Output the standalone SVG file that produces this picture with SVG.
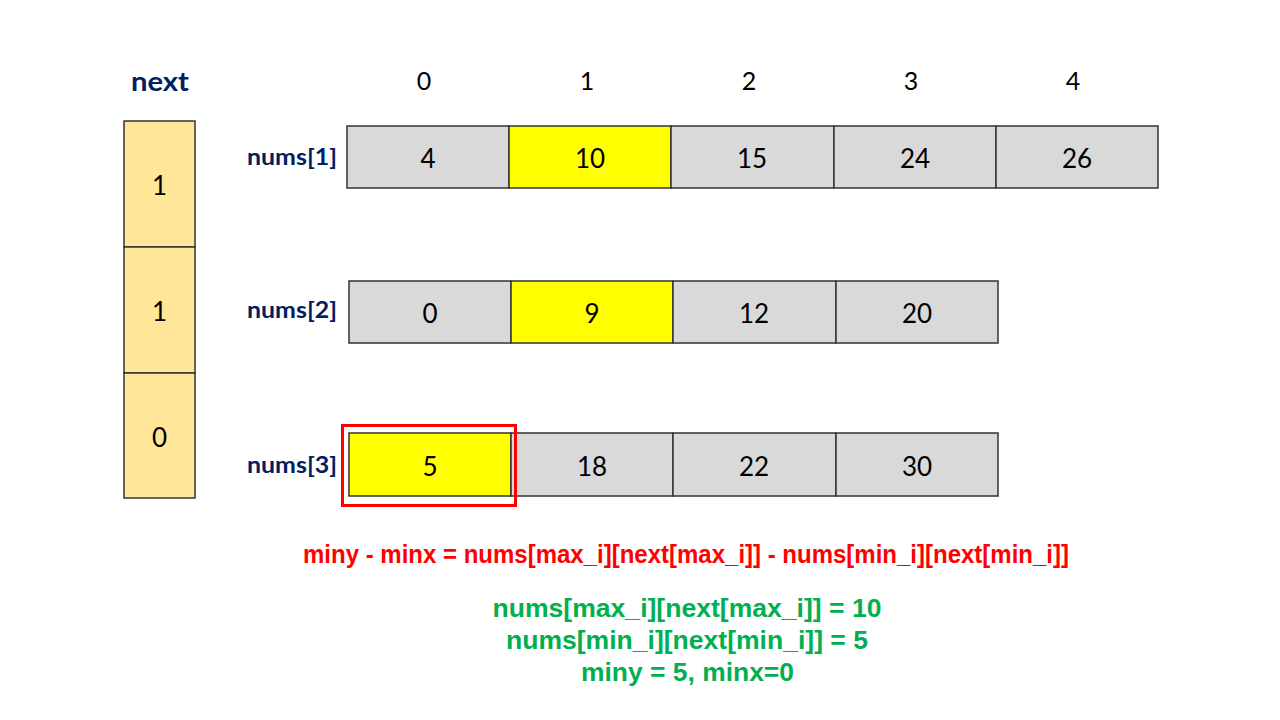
<svg xmlns="http://www.w3.org/2000/svg" width="1280" height="720" viewBox="0 0 1280 720">
<style>
.cell{fill:#d9d9d9;stroke:#333;stroke-width:1.5}
.hl{fill:#ffff00;stroke:#333;stroke-width:1.5}
.nx{fill:#ffe699;stroke:#333;stroke-width:1.5}
.num{font-family:Lato,"Noto Sans",sans-serif;font-size:26px;fill:#000;text-anchor:middle;dominant-baseline:central}
.idx{font-family:Lato,"Noto Sans",sans-serif;font-size:25px;fill:#000;text-anchor:middle;dominant-baseline:central}
.lbl{font-family:Lato,"Noto Sans",sans-serif;font-weight:bold;font-size:22px;fill:#002060;dominant-baseline:central}
.f{font-family:"Liberation Sans",Arial,sans-serif;font-weight:bold;font-size:25px;text-anchor:middle}
</style>
<rect width="1280" height="720" fill="#fff"/>
<g id="next">
<text x="160" y="80" class="lbl" style="font-size:27px" text-anchor="middle" textLength="58" lengthAdjust="spacingAndGlyphs">next</text>
<rect x="124" y="121" width="71" height="126" class="nx"/>
<rect x="124" y="247" width="71" height="126" class="nx"/>
<rect x="124" y="373" width="71" height="125" class="nx"/>
<text x="159.5" y="185" class="num">1</text>
<text x="159.5" y="311" class="num">1</text>
<text x="159.5" y="437" class="num">0</text>
</g>
<g id="indices">
<text x="424" y="80" class="idx">0</text>
<text x="587" y="80" class="idx">1</text>
<text x="749" y="80" class="idx">2</text>
<text x="911" y="80" class="idx">3</text>
<text x="1073" y="80" class="idx">4</text>
</g>
<g id="nums1">
<text x="247" y="156" class="lbl" textLength="90" lengthAdjust="spacingAndGlyphs">nums[1]</text>
<rect x="347" y="126" width="162" height="62" class="cell"/>
<rect x="509" y="126" width="162" height="62" class="hl"/>
<rect x="671" y="126" width="163" height="62" class="cell"/>
<rect x="834" y="126" width="162" height="62" class="cell"/>
<rect x="996" y="126" width="162" height="62" class="cell"/>
<text x="428" y="158" class="num">4</text>
<text x="590" y="158" class="num">10</text>
<text x="752" y="158" class="num">15</text>
<text x="915" y="158" class="num">24</text>
<text x="1077" y="158" class="num">26</text>
</g>
<g id="nums2">
<text x="247" y="309" class="lbl" textLength="90" lengthAdjust="spacingAndGlyphs">nums[2]</text>
<rect x="349" y="281" width="162" height="62" class="cell"/>
<rect x="511" y="281" width="162" height="62" class="hl"/>
<rect x="673" y="281" width="163" height="62" class="cell"/>
<rect x="836" y="281" width="162" height="62" class="cell"/>
<text x="430" y="313" class="num">0</text>
<text x="592" y="313" class="num">9</text>
<text x="754" y="313" class="num">12</text>
<text x="917" y="313" class="num">20</text>
</g>
<g id="nums3">
<text x="247" y="464" class="lbl" textLength="90" lengthAdjust="spacingAndGlyphs">nums[3]</text>
<rect x="349" y="433" width="162" height="63" class="hl"/>
<rect x="511" y="433" width="162" height="63" class="cell"/>
<rect x="673" y="433" width="163" height="63" class="cell"/>
<rect x="836" y="433" width="162" height="63" class="cell"/>
<text x="430" y="466" class="num">5</text>
<text x="592" y="466" class="num">18</text>
<text x="754" y="466" class="num">22</text>
<text x="917" y="466" class="num">30</text>
<rect x="342.5" y="425.5" width="173" height="80" fill="none" stroke="#ff0000" stroke-width="3"/>
</g>
<g id="formulas">
<text x="686" y="563" class="f" fill="#ff0000" textLength="766" lengthAdjust="spacingAndGlyphs">miny - minx = nums[max_i][next[max_i]] - nums[min_i][next[min_i]]</text>
<text x="687" y="617" class="f" fill="#00b050" textLength="389" lengthAdjust="spacingAndGlyphs">nums[max_i][next[max_i]] = 10</text>
<text x="687" y="649" class="f" fill="#00b050" textLength="362" lengthAdjust="spacingAndGlyphs">nums[min_i][next[min_i]] = 5</text>
<text x="687.5" y="681" class="f" fill="#00b050" textLength="213" lengthAdjust="spacingAndGlyphs">miny = 5, minx=0</text>
</g>
</svg>
